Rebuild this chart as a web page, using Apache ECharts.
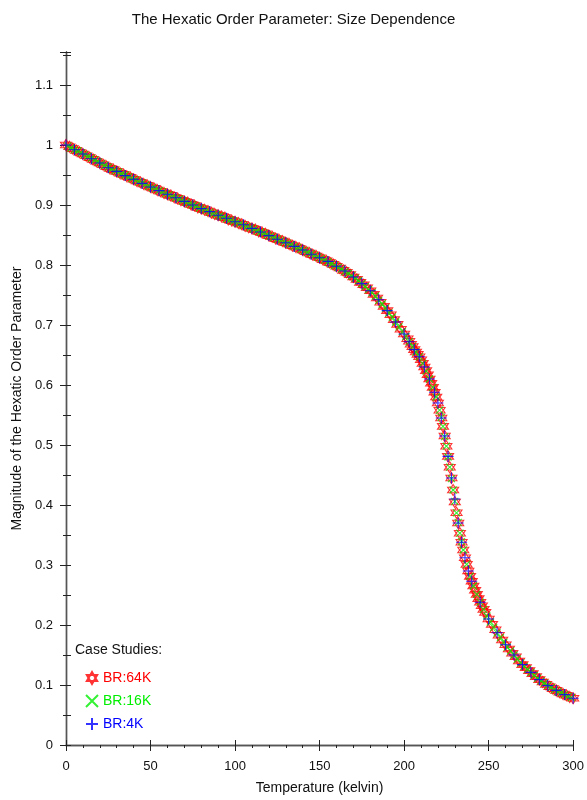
<!DOCTYPE html>
<html>
<head>
<meta charset="utf-8">
<script src="https://cdn.jsdelivr.net/npm/echarts@6/dist/echarts.min.js"></script>
<style>
  html, body { margin: 0; padding: 0; background: #fff; }
  #chart { width: 587px; height: 800px; }
</style>
</head>
<body>
<div id="chart"></div>
<script>
// BR:64K, every 2 K from 0 to 300
const temps64 = [];
for (let t = 0; t <= 300; t += 2) temps64.push(t);
const order64 = [
  1.000, 0.997, 0.994, 0.991, 0.988, 0.985, 0.982, 0.979, 0.976, 0.973,
  0.970, 0.967, 0.964, 0.961, 0.959, 0.956, 0.953, 0.951, 0.948, 0.946,
  0.943, 0.940, 0.938, 0.935, 0.933, 0.930, 0.928, 0.925, 0.923, 0.920,
  0.918, 0.916, 0.913, 0.911, 0.908, 0.906, 0.904, 0.901, 0.899, 0.896,
  0.894, 0.892, 0.890, 0.887, 0.885, 0.883, 0.881, 0.879, 0.876, 0.874,
  0.872, 0.870, 0.868, 0.865, 0.863, 0.861, 0.859, 0.856, 0.854, 0.852,
  0.849, 0.847, 0.844, 0.842, 0.840, 0.837, 0.835, 0.832, 0.830, 0.828,
  0.825, 0.822, 0.820, 0.817, 0.815, 0.812, 0.809, 0.807, 0.804, 0.801,
  0.798, 0.795, 0.791, 0.788, 0.784, 0.780, 0.776, 0.771, 0.767, 0.762,
  0.757, 0.751, 0.745, 0.738, 0.731, 0.724, 0.717, 0.709, 0.701, 0.693,
  0.685, 0.677, 0.668, 0.659, 0.651, 0.642, 0.630, 0.617, 0.603, 0.588,
  0.570, 0.545, 0.515, 0.481, 0.445, 0.405, 0.370, 0.338, 0.312, 0.290,
  0.273, 0.258, 0.244, 0.232, 0.221, 0.210, 0.201, 0.192, 0.183, 0.175,
  0.167, 0.160, 0.153, 0.147, 0.140, 0.134, 0.129, 0.124, 0.119, 0.114,
  0.109, 0.105, 0.101, 0.097, 0.094, 0.091, 0.088, 0.085, 0.083, 0.080,
  0.078
];
// BR:64K, extra 1 K steps through the transition
const temps64Fine = [
  203, 205, 207, 209, 211, 213, 215, 217, 219, 221, 223, 225,
  227, 229, 231, 233, 235, 237, 239, 241, 243, 245, 247
];
const order64Fine = [
  0.673, 0.664, 0.655, 0.647, 0.636, 0.624, 0.610, 0.596, 0.580, 0.558, 0.531, 0.498,
  0.463, 0.425, 0.387, 0.353, 0.325, 0.301, 0.281, 0.265, 0.251, 0.238, 0.226
];

// BR:16K, every 2 K from 1 to 299
const temps16 = [];
for (let t = 1; t <= 299; t += 2) temps16.push(t);
const order16 = [
  0.998, 0.995, 0.992, 0.990, 0.987, 0.984, 0.981, 0.978, 0.975, 0.972,
  0.969, 0.966, 0.963, 0.960, 0.957, 0.955, 0.952, 0.950, 0.947, 0.944,
  0.942, 0.939, 0.937, 0.934, 0.931, 0.929, 0.927, 0.924, 0.922, 0.919,
  0.917, 0.914, 0.912, 0.910, 0.907, 0.905, 0.902, 0.900, 0.898, 0.895,
  0.893, 0.891, 0.888, 0.886, 0.884, 0.882, 0.880, 0.877, 0.875, 0.873,
  0.871, 0.869, 0.866, 0.864, 0.862, 0.860, 0.857, 0.855, 0.853, 0.850,
  0.848, 0.846, 0.843, 0.841, 0.838, 0.836, 0.834, 0.831, 0.829, 0.826,
  0.824, 0.821, 0.819, 0.816, 0.813, 0.811, 0.808, 0.805, 0.802, 0.799,
  0.796, 0.793, 0.789, 0.786, 0.782, 0.778, 0.774, 0.769, 0.764, 0.759,
  0.754, 0.748, 0.741, 0.735, 0.728, 0.720, 0.713, 0.705, 0.697, 0.689,
  0.681, 0.672, 0.664, 0.655, 0.647, 0.636, 0.623, 0.610, 0.596, 0.580,
  0.558, 0.531, 0.498, 0.463, 0.425, 0.387, 0.353, 0.325, 0.301, 0.281,
  0.265, 0.251, 0.238, 0.226, 0.215, 0.205, 0.196, 0.187, 0.179, 0.171,
  0.163, 0.157, 0.150, 0.143, 0.137, 0.131, 0.126, 0.121, 0.116, 0.111,
  0.107, 0.103, 0.099, 0.096, 0.092, 0.089, 0.087, 0.084, 0.081, 0.079
];
const temps16Fine = [222, 224, 226, 228, 230, 232, 234];
const order16Fine = [0.546, 0.514, 0.480, 0.444, 0.406, 0.371, 0.339];

// BR:4K, coarser away from the transition
const temps4 = [
  0, 5, 10, 15, 20, 25, 30, 35, 40, 45, 50, 55, 60, 65, 70, 75, 80, 85, 90, 95,
  100, 105, 110, 115, 120, 125, 130, 135, 140, 145, 150, 155, 160, 165, 170, 175,
  180, 185, 190, 195, 200, 203, 206, 209, 212, 215, 218, 220, 222, 224, 226, 228,
  230, 232, 234, 236, 238, 240, 245, 250, 255, 260, 265, 270, 275, 280, 285, 290,
  295, 300
];
const order4 = [
  1.000, 0.992, 0.985, 0.977, 0.970, 0.962, 0.956, 0.949, 0.943, 0.936, 0.930,
  0.924, 0.918, 0.912, 0.906, 0.900, 0.894, 0.889, 0.883, 0.878, 0.872,
  0.867, 0.861, 0.855, 0.849, 0.843, 0.837, 0.831, 0.825, 0.818, 0.812,
  0.806, 0.798, 0.790, 0.780, 0.769, 0.757, 0.742, 0.724, 0.705, 0.685,
  0.672, 0.659, 0.647, 0.630, 0.610, 0.588, 0.570, 0.545, 0.515, 0.481,
  0.445, 0.410, 0.370, 0.338, 0.312, 0.290, 0.273,
  0.238, 0.210, 0.187, 0.167, 0.150, 0.134, 0.121, 0.109, 0.099, 0.091,
  0.084, 0.078
];

const seriesNames = ['BR:64K', 'BR:16K', 'BR:4K'];
const seriesColors = ['#ff0000', '#00ee00', '#0000ff'];

const FONT = "'Liberation Sans', Arial, sans-serif";
const STAR = 'path://M0,-10L8.66,5L-8.66,5ZM0,10L8.66,-5L-8.66,-5Z';
const CROSS = 'path://M0,0L10,10M10,0L0,10';
const PLUS = 'path://M5,0L5,10M0,5L10,5';

const zip = (xs, ys) => xs.map((x, i) => [x, ys[i]]);

const chart = echarts.init(document.getElementById('chart'));

const axisLine = { show: true, lineStyle: { color: '#555', width: 1.4 } };

const makeSeries = (idx, data, symbol, size) => ({
  name: seriesNames[idx],
  type: 'scatter',
  data,
  symbol,
  symbolSize: size,
  itemStyle: { color: 'transparent', borderColor: seriesColors[idx], borderWidth: 1.1 },
  emphasis: { disabled: true },
});

chart.setOption({
  animation: false,
  title: [
    {
      text: 'The Hexatic Order Parameter: Size Dependence',
      left: 'center',
      top: 7,
      textStyle: { fontFamily: FONT, fontSize: 15, fontWeight: 'normal', color: '#111' },
    },
    {
      text: 'Case Studies:',
      left: 70,
      top: 638,
      textStyle: { fontFamily: FONT, fontSize: 14, fontWeight: 'normal', color: '#111' },
    },
  ],
  legend: {
    orient: 'vertical',
    left: 80,
    top: 666,
    itemGap: 9,
    itemWidth: 12,
    itemHeight: 12,
    data: seriesNames.map((n, i) => ({
      name: n,
      textStyle: { color: seriesColors[i], fontFamily: FONT, fontSize: 14 },
    })),
  },
  grid: { left: 66, right: 12, top: 52, bottom: 50 },
  xAxis: [
    {
      type: 'value',
      min: 0,
      max: 300,
      interval: 50,
      name: 'Temperature (kelvin)',
      nameLocation: 'middle',
      nameGap: 36,
      nameTextStyle: { fontFamily: FONT, fontSize: 14, color: '#111' },
      axisLine,
      axisTick: { show: true, length: 6, lineStyle: { color: '#222' } },
      minorTick: { show: true, splitNumber: 5, length: 3, lineStyle: { color: '#222' } },
      axisLabel: { fontFamily: FONT, fontSize: 13, color: '#111', margin: 15 },
      splitLine: { show: false },
    },
    {
      type: 'value',
      position: 'top',
      min: 0,
      max: 300,
      interval: 50,
      axisLine,
      axisTick: { show: true, length: 5, lineStyle: { color: '#222' } },
      axisLabel: { show: false },
      splitLine: { show: false },
    },
  ],
  yAxis: [
    {
      type: 'value',
      min: 0,
      max: 1.155,
      interval: 0.1,
      name: 'Magnitude of the Hexatic Order Parameter',
      nameLocation: 'middle',
      nameGap: 40,
      nameTextStyle: { fontFamily: FONT, fontSize: 14, color: '#111' },
      axisLine,
      axisTick: { show: true, length: 6, lineStyle: { color: '#222' } },
      minorTick: { show: true, splitNumber: 2, length: 3, lineStyle: { color: '#222' } },
      axisLabel: {
        fontFamily: FONT,
        fontSize: 13,
        color: '#111',
        margin: 13,
        showMaxLabel: false,
        formatter: (v) => (v > 1.12 ? '' : String(Math.round(v * 10) / 10)),
      },
      splitLine: { show: false },
    },
    {
      type: 'value',
      position: 'right',
      min: 0,
      max: 1.155,
      interval: 0.05,
      axisLine,
      axisTick: { show: true, length: 5, lineStyle: { color: '#222' } },
      axisLabel: { show: false },
      splitLine: { show: false },
    },
  ],
  series: [
    makeSeries(0, zip(temps64, order64).concat(zip(temps64Fine, order64Fine)), STAR, 11),
    makeSeries(1, zip(temps16, order16).concat(zip(temps16Fine, order16Fine)), CROSS, 7),
    makeSeries(2, zip(temps4, order4), PLUS, 11),
  ],
});
</script>
</body>
</html>
